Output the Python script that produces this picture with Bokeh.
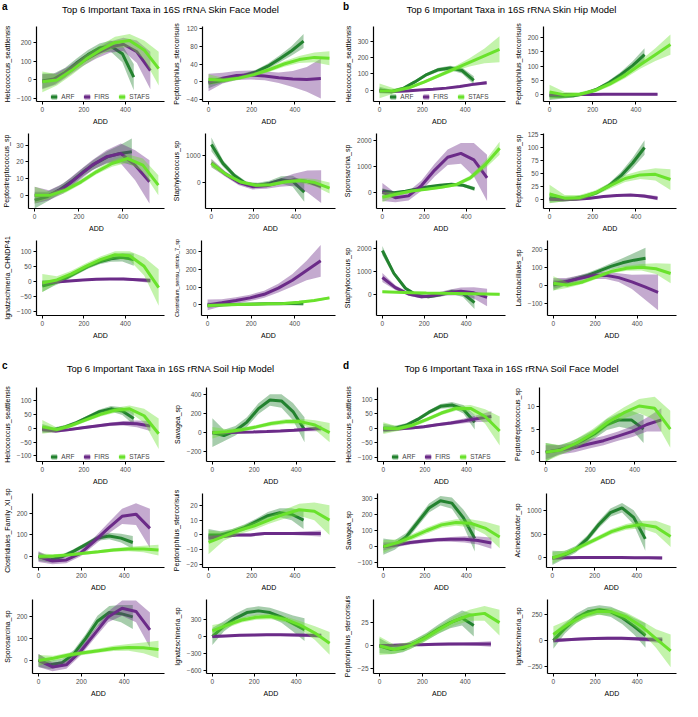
from bokeh.plotting import figure
from bokeh.layouts import column, row
from bokeh.models import Div, Legend, LegendItem, Range1d, FixedTicker, Spacer
from bokeh.embed import file_html
from bokeh.resources import INLINE

FONT = "Liberation Sans"
GROUPS = ["ARF", "FIRS", "STAFS"]
COLORS = {"ARF": "#23822f", "FIRS": "#6b2b88", "STAFS": "#6ae22c"}
X_TICKS = [0, 200, 400]

# x positions (ADD) of the smoothed curves
ARF_X = [0, 55, 110, 165, 220, 275, 330, 385, 440]
FIRS_X = [0, 65, 130, 195, 260, 325, 390, 455, 520]
FIRS_X_B = [0, 62, 125, 187, 250, 312, 375, 437, 500]
STAFS_X = [0, 70, 140, 210, 280, 350, 420, 490, 560]

TITLES = {
    "a": "Top 6 Important Taxa in 16S rRNA Skin Face Model",
    "b": "Top 6 Important Taxa in 16S rRNA Skin Hip Model",
    "c": "Top 6 Important Taxa in 16S rRNA Soil Hip Model",
    "d": "Top 6 Important Taxa in 16S rRNA Soil Face Model",
}

# ---------------- panel a : Skin Face ----------------
A_LABELS = ["Helcococcus_seattlensis", "Peptoniphilus_stercorisuis", "Peptostreptococcus_sp",
            "Staphylococcus_sp", "Ignatzschineria_CHNDP41", "Clostridium_sensu_stricto_7_sp"]
A_YLIM = [(-115, 285), (-45, 125), (-8, 37), (-950, 1800), (-112, 135), (-60, 365)]
A_YTICKS = [[-100, 0, 100, 200], [-40, 0, 40, 80, 120], [0, 10, 20, 30], [0, 1000],
            [-100, -50, 0, 50, 100], [0, 100, 200, 300]]

A1_ARF = [-5, 5, 40, 90, 135, 170, 180, 140, 15]
A1_ARF_SE = [40, 30, 25, 25, 25, 25, 30, 45, 70]
A1_FIRS = [-10, 5, 50, 100, 140, 175, 190, 150, 50]
A1_FIRS_SE = [40, 30, 25, 25, 25, 30, 35, 60, 100]
A1_STAFS = [-10, 0, 50, 110, 160, 200, 210, 160, 60]
A1_STAFS_SE = [55, 30, 25, 25, 25, 30, 35, 50, 90]

A2_ARF = [-3, 2, 8, 14, 22, 35, 52, 70, 92]
A2_ARF_SE = [12, 6, 5, 5, 5, 6, 8, 11, 16]
A2_FIRS = [-2, 8, 14, 15, 13, 9, 6, 5, 7]
A2_FIRS_SE = [20, 12, 10, 10, 10, 12, 18, 28, 45]
A2_STAFS = [5, 3, 8, 16, 27, 40, 50, 55, 53]
A2_STAFS_SE = [12, 5, 4, 4, 5, 6, 8, 11, 16]

A3_ARF = [-3, -1, 3, 8, 14, 19, 23, 25, 26]
A3_ARF_SE = [5, 3, 2.5, 2.5, 2.5, 3, 3.5, 5, 8]
A3_FIRS = [0, 0, 4, 11, 18, 23, 25, 18, 8]
A3_FIRS_SE = [5, 3, 3, 3, 3, 4, 6, 9, 13]
A3_STAFS = [0, 0, 3, 8, 14, 19, 22, 18, 6]
A3_STAFS_SE = [5, 2, 1.5, 1.5, 1.5, 2, 2.5, 4, 6]

A4_ARF = [1400, 700, 250, -50, -100, -30, 100, 50, -350]
A4_ARF_SE = [250, 120, 90, 90, 90, 100, 130, 200, 350]
A4_FIRS = [720, 320, 0, -150, -120, 0, 100, 40, -150]
A4_FIRS_SE = [150, 100, 100, 100, 110, 150, 220, 400, 600]
A4_STAFS = [700, 300, 20, -100, -80, 30, 80, 0, -200]
A4_STAFS_SE = [150, 70, 60, 60, 60, 70, 90, 130, 200]

A5_ARF = [-15, -5, 10, 30, 50, 65, 75, 80, 72]
A5_ARF_SE = [20, 10, 8, 8, 8, 8, 10, 14, 20]
A5_FIRS = [-5, -2, 2, 5, 7, 8, 8, 6, 3]
A5_FIRS_SE = [5, 4, 3, 3, 3, 3, 4, 5, 8]
A5_STAFS = [-5, 5, 25, 50, 72, 88, 85, 50, -20]
A5_STAFS_SE = [30, 12, 10, 10, 10, 12, 15, 30, 60]

A6_ARF = [-2, 0, 2, 4, 5, 6, 7, 8, 10]
A6_ARF_SE = [15, 8, 6, 6, 6, 6, 8, 10, 15]
A6_FIRS = [0, 12, 25, 40, 60, 95, 140, 195, 250]
A6_FIRS_SE = [30, 20, 18, 18, 20, 25, 35, 55, 90]
A6_STAFS = [-3, 0, 2, 4, 6, 8, 15, 25, 40]
A6_STAFS_SE = [10, 5, 4, 4, 4, 4, 5, 6, 8]

# ---------------- panel b : Skin Hip ----------------
B_LABELS = ["Helcococcus_seattlensis", "Peptoniphilus_stercorisuis", "Sporosarcina_sp",
            "Peptostreptococcus_sp", "Staphylococcus_sp", "Lactobacillales_sp"]
B_YLIM = [(-70, 390), (-23, 238), (-640, 2270), (-18, 127), (-940, 2340), (-170, 250)]
B_YTICKS = [[0, 100, 200, 300], [0, 50, 100, 150, 200], [0, 1000, 2000],
            [0, 25, 50, 75, 100, 125], [0, 1000, 2000], [-100, 0, 100, 200]]

B1_ARF = [0, -10, 10, 50, 95, 125, 135, 120, 60]
B1_ARF_SE = [20, 12, 10, 10, 10, 12, 14, 18, 25]
B1_FIRS = [-5, -8, -5, 0, 5, 12, 22, 35, 45]
B1_FIRS_SE = [10, 6, 5, 5, 5, 5, 6, 8, 10]
B1_STAFS = [-5, -5, 15, 50, 90, 130, 170, 210, 250]
B1_STAFS_SE = [45, 15, 10, 10, 12, 15, 25, 45, 80]

B2_ARF = [-3, -5, -3, 5, 20, 42, 70, 102, 140]
B2_ARF_SE = [15, 8, 6, 6, 6, 8, 10, 15, 22]
B2_FIRS = [0, 1, 1, 1, 2, 2, 2, 2, 2]
B2_FIRS_SE = [3, 2, 2, 2, 2, 2, 2, 3, 4]
B2_STAFS = [10, 0, 2, 15, 38, 68, 105, 140, 175]
B2_STAFS_SE = [25, 10, 7, 7, 8, 10, 14, 22, 35]

B3_ARF = [50, -30, 30, 120, 200, 260, 300, 260, 120]
B3_ARF_SE = [100, 50, 40, 40, 40, 40, 50, 60, 80]
B3_FIRS = [0, -220, -150, 250, 850, 1350, 1500, 1250, 550]
B3_FIRS_SE = [350, 180, 180, 200, 250, 300, 400, 650, 900]
B3_STAFS = [-200, -80, 40, 110, 180, 280, 550, 1050, 1700]
B3_STAFS_SE = [200, 70, 50, 50, 50, 60, 90, 150, 250]

B4_ARF = [3, 0, 1, 5, 13, 26, 45, 70, 100]
B4_ARF_SE = [10, 5, 4, 4, 4, 5, 7, 10, 14]
B4_FIRS = [0, -1, 0, 2, 5, 7, 8, 6, 2]
B4_FIRS_SE = [3, 2, 2, 2, 2, 2, 2, 3, 4]
B4_STAFS = [10, 2, 3, 12, 26, 40, 47, 48, 38]
B4_STAFS_SE = [18, 6, 5, 5, 6, 7, 8, 12, 20]

B5_ARF = [1900, 900, 250, -60, -120, -30, 100, 20, -380]
B5_ARF_SE = [200, 100, 70, 70, 70, 80, 100, 150, 280]
B5_FIRS = [720, 280, 0, -120, -60, 60, 120, 50, -150]
B5_FIRS_SE = [200, 100, 80, 80, 90, 120, 170, 250, 380]
B5_STAFS = [100, 80, 60, 40, 30, 20, 10, 0, -10]
B5_STAFS_SE = [50, 30, 25, 25, 25, 25, 30, 40, 50]

B6_ARF = [0, 15, 35, 55, 80, 105, 125, 140, 150]
B6_ARF_SE = [30, 18, 15, 15, 15, 18, 25, 40, 60]
B6_FIRS = [10, 20, 38, 52, 55, 42, 18, -10, -40]
B6_FIRS_SE = [30, 20, 18, 18, 20, 25, 40, 70, 100]
B6_STAFS = [10, 0, 18, 48, 78, 95, 100, 92, 65]
B6_STAFS_SE = [40, 15, 12, 12, 12, 14, 18, 30, 55]

# ---------------- panel c : Soil Hip ----------------
C_LABELS = ["Helcococcus_seattlensis", "Savagea_sp", "Clostridiales_Family_XI_sp",
            "Peptoniphilus_stercorisuis", "Sporosarcina_sp", "Ignatzschineria_sp"]
C_YLIM = [(-120, 147), (-300, 470), (-50, 290), (-22, 28), (-60, 280), (-650, 650)]
C_YTICKS = [[-100, -50, 0, 50, 100], [-200, 0, 200, 400], [0, 100, 200],
            [-20, -10, 0, 10, 20], [0, 100, 200], [-600, -300, 0, 300]]

C1_ARF = [0, -5, 5, 20, 40, 60, 70, 62, 35]
C1_ARF_SE = [15, 8, 7, 7, 7, 8, 10, 14, 22]
C1_FIRS = [-5, -10, -5, 2, 8, 14, 18, 16, 8]
C1_FIRS_SE = [10, 6, 5, 5, 5, 6, 8, 12, 18]
C1_STAFS = [5, -5, 10, 30, 50, 65, 70, 45, -20]
C1_STAFS_SE = [25, 8, 7, 7, 8, 9, 12, 25, 55]

C2_ARF = [0, -30, 20, 110, 250, 340, 330, 220, 30]
C2_ARF_SE = [150, 60, 50, 50, 55, 60, 70, 90, 130]
C2_FIRS = [0, 2, 5, 8, 12, 18, 25, 35, 45]
C2_FIRS_SE = [20, 12, 10, 10, 10, 12, 15, 20, 30]
C2_STAFS = [0, 10, 30, 60, 95, 115, 115, 80, 0]
C2_STAFS_SE = [60, 25, 20, 20, 22, 25, 30, 50, 100]

C3_ARF = [0, -15, 0, 25, 55, 85, 95, 85, 65]
C3_ARF_SE = [20, 12, 10, 10, 10, 12, 15, 20, 30]
C3_FIRS = [0, -20, -15, 15, 70, 130, 185, 195, 130]
C3_FIRS_SE = [25, 15, 15, 15, 18, 25, 35, 50, 90]
C3_STAFS = [0, 3, 8, 15, 22, 30, 35, 35, 30]
C3_STAFS_SE = [15, 8, 7, 7, 7, 8, 10, 15, 25]

C4_ARF = [0, 0, 2, 5, 9, 13, 15, 14, 10]
C4_ARF_SE = [4, 2.5, 2, 2, 2, 2.5, 3, 4, 6]
C4_FIRS = [-2, -1, 0, 0, 1, 1, 1, 1, 1]
C4_FIRS_SE = [2, 1, 1, 1, 1, 1, 1, 1.5, 2]
C4_STAFS = [-5, -1, 3, 6, 10, 14, 17, 16, 10]
C4_STAFS_SE = [8, 3, 2.5, 2.5, 2.5, 3, 4, 6, 10]

C5_ARF = [0, -20, -10, 30, 100, 180, 220, 215, 200]
C5_ARF_SE = [30, 20, 18, 18, 20, 25, 30, 40, 55]
C5_FIRS = [0, -30, -20, 40, 120, 200, 240, 225, 140]
C5_FIRS_SE = [30, 20, 18, 18, 20, 25, 35, 50, 80]
C5_STAFS = [0, 10, 25, 35, 45, 55, 60, 58, 50]
C5_STAFS_SE = [25, 12, 10, 10, 10, 12, 15, 25, 40]

C6_ARF = [0, 180, 320, 420, 450, 420, 340, 230, 120]
C6_ARF_SE = [150, 90, 80, 80, 80, 85, 100, 140, 200]
C6_FIRS = [0, 10, 20, 25, 30, 30, 25, 20, 15]
C6_FIRS_SE = [30, 20, 20, 20, 20, 20, 25, 30, 40]
C6_STAFS = [100, 200, 290, 340, 350, 300, 200, 60, -120]
C6_STAFS_SE = [100, 50, 45, 45, 45, 50, 70, 120, 200]

# ---------------- panel d : Soil Face ----------------
D_LABELS = ["Helcococcus_seattlensis", "Peptostreptococcus_sp", "Savagea_sp",
            "Acinetobacter_sp", "Peptoniphilus_stercorisuis", "Ignatzschineria_sp"]
D_YLIM = [(-115, 140), (-2, 14), (-130, 330), (-200, 1350), (-30, 50), (-320, 400)]
D_YTICKS = [[-100, -50, 0, 50, 100], [0, 5, 10], [-100, 0, 100, 200, 300], [0, 500, 1000],
            [-25, 0, 25], [-250, 0, 250]]

D1_ARF = [0, 0, 10, 30, 55, 75, 80, 65, 20]
D1_ARF_SE = [15, 8, 7, 7, 7, 8, 10, 15, 25]
D1_FIRS = [-5, -3, 0, 5, 12, 18, 25, 33, 40]
D1_FIRS_SE = [10, 6, 5, 5, 5, 6, 8, 12, 18]
D1_STAFS = [0, -2, 10, 30, 52, 68, 68, 40, -10]
D1_STAFS_SE = [20, 8, 7, 7, 7, 8, 12, 25, 50]

D2_ARF = [0, 0.5, 1.2, 2.5, 4, 6, 7, 7, 5]
D2_ARF_SE = [2, 1, 1, 1, 1, 1.2, 1.5, 2, 3]
D2_FIRS = [0, 0.5, 1, 1.8, 2.5, 3.5, 4.5, 6, 7]
D2_FIRS_SE = [1.5, 1, 1, 1, 1, 1, 1.2, 1.5, 2.5]
D2_STAFS = [0, 0.5, 2, 4, 6.5, 8.5, 10, 9.5, 5]
D2_STAFS_SE = [2, 1, 1, 1, 1, 1.2, 1.5, 2.5, 4]

D3_ARF = [0, 10, 60, 150, 240, 285, 270, 180, 50]
D3_ARF_SE = [50, 30, 25, 25, 28, 30, 35, 50, 80]
D3_FIRS = [0, 12, 25, 35, 42, 45, 45, 38, 22]
D3_FIRS_SE = [25, 15, 12, 12, 12, 15, 20, 25, 35]
D3_STAFS = [0, 25, 60, 100, 135, 150, 145, 115, 60]
D3_STAFS_SE = [40, 20, 18, 18, 18, 20, 25, 40, 70]

D4_ARF = [0, 60, 180, 400, 700, 950, 1050, 850, 400]
D4_ARF_SE = [150, 80, 70, 70, 75, 85, 100, 150, 250]
D4_FIRS = [0, 5, 10, 10, 10, 8, 5, 3, 0]
D4_FIRS_SE = [30, 20, 20, 20, 20, 20, 20, 25, 35]
D4_STAFS = [0, 100, 250, 400, 550, 650, 700, 650, 450]
D4_STAFS_SE = [120, 60, 50, 50, 55, 60, 80, 130, 220]

D5_ARF = [0, -4, -3, 3, 10, 18, 25, 30, 22]
D5_ARF_SE = [8, 5, 4, 4, 4, 5, 6, 8, 12]
D5_FIRS = [0, 0.5, 1, 1.2, 1.5, 1.8, 2, 2, 2]
D5_FIRS_SE = [2, 1.5, 1.5, 1.5, 1.5, 1.5, 1.5, 2, 3]
D5_STAFS = [0, -4, 0, 8, 18, 27, 33, 35, 25]
D5_STAFS_SE = [10, 5, 4, 4, 4, 5, 6, 8, 14]

D6_ARF = [0, 120, 220, 280, 300, 280, 220, 140, 50]
D6_ARF_SE = [80, 50, 45, 45, 45, 50, 60, 80, 120]
D6_FIRS = [0, 8, 15, 20, 22, 22, 18, 12, 5]
D6_FIRS_SE = [20, 15, 15, 15, 15, 15, 18, 22, 30]
D6_STAFS = [60, 160, 240, 285, 280, 230, 140, 20, -100]
D6_STAFS_SE = [80, 40, 35, 35, 35, 40, 55, 90, 160]

G = globals()


def style_axis(ax):
    ax.axis_line_color = "black"
    ax.axis_line_width = 1.2
    ax.major_tick_line_color = "black"
    ax.major_tick_line_width = 1
    ax.major_tick_out = 3
    ax.major_tick_in = 0
    ax.minor_tick_line_color = None
    ax.major_label_text_font = FONT
    ax.major_label_text_font_size = "6.5px"
    ax.major_label_text_color = "#4d4d4d"
    ax.major_label_standoff = 2
    ax.axis_label_text_font = FONT
    ax.axis_label_text_font_size = "7px"
    ax.axis_label_text_font_style = "normal"
    ax.axis_label_text_color = "black"
    ax.axis_label_standoff = 3


def subplot(key, ylabel, ylim, yticks, firs_x, width, height, legend=False):
    p = figure(width=width, height=height, x_range=Range1d(-28, 588), y_range=Range1d(*ylim),
               output_backend="svg", toolbar_location=None,
               min_border_left=4, min_border_right=6, min_border_top=6, min_border_bottom=2)
    p.grid.visible = False
    p.outline_line_color = None
    xs_map = {"ARF": ARF_X, "FIRS": firs_x, "STAFS": STAFS_X}
    items = []
    for g in GROUPS:
        ys = G[f"{key}_{g}"]
        se = G[f"{key}_{g}_SE"]
        xs = xs_map[g]
        lo = [y - s for y, s in zip(ys, se)]
        hi = [y + s for y, s in zip(ys, se)]
        band = p.varea(x=xs, y1=lo, y2=hi, fill_color=COLORS[g], fill_alpha=0.4)
        ln = p.line(x=xs, y=ys, line_color=COLORS[g], line_width=3)
        items.append(LegendItem(label=g, renderers=[band, ln]))
    style_axis(p.xaxis[0])
    style_axis(p.yaxis[0])
    p.xaxis.ticker = FixedTicker(ticks=X_TICKS)
    p.yaxis.ticker = FixedTicker(ticks=yticks)
    p.xaxis.axis_label = "ADD"
    p.yaxis.axis_label = ylabel
    if len(ylabel) > 26:
        p.yaxis.axis_label_text_font_size = "5.5px"
    if legend:
        leg = Legend(items=items, orientation="horizontal", location="bottom",
                     background_fill_alpha=0, border_line_color=None,
                     label_text_font=FONT, label_text_font_size="6.5px",
                     label_width=5, label_height=7,
                     glyph_width=7, glyph_height=7, spacing=9, label_standoff=4,
                     padding=1, margin=1)
        p.add_layout(leg)
    return p


def header(letter, title, width, height):
    html = (f'<div style="position:relative;width:{width}px;height:{height}px;font-family:{FONT};">'
            f'<span style="position:absolute;left:2px;top:0px;font-weight:bold;font-size:10px;">{letter}</span>'
            f'<span style="position:absolute;left:0;right:0;top:3px;text-align:center;font-size:9.5px;">{title}</span></div>')
    return Div(text=html, width=width, height=height, margin=(0, 0, 0, 0))


def panel(letter, labels, ylims, yticks, firs_x, width, head_h, row_hs):
    key = letter.upper()
    wl = width // 2
    wr = width - wl
    rows = [header(letter, TITLES[letter], width, head_h)]
    for r in range(3):
        i = 2 * r
        left = subplot(f"{key}{i + 1}", labels[i], ylims[i], yticks[i], firs_x, wl, row_hs[r], legend=(i == 0))
        right = subplot(f"{key}{i + 2}", labels[i + 1], ylims[i + 1], yticks[i + 1], firs_x, wr, row_hs[r])
        rows.append(row(left, right))
    return column(*rows)


pa = panel("a", A_LABELS, A_YLIM, A_YTICKS, FIRS_X, 341, 20, [107, 107, 107])
pb = panel("b", B_LABELS, B_YLIM, B_YTICKS, FIRS_X_B, 341, 20, [107, 107, 107])
pc = panel("c", C_LABELS, C_YLIM, C_YTICKS, FIRS_X, 341, 22, [106, 106, 106])
pd_ = panel("d", D_LABELS, D_YLIM, D_YTICKS, FIRS_X, 341, 22, [106, 106, 106])

layout = column(row(pa, pb), Spacer(height=18), row(pc, pd_))

open("out.html", "w").write(file_html(layout, INLINE))
